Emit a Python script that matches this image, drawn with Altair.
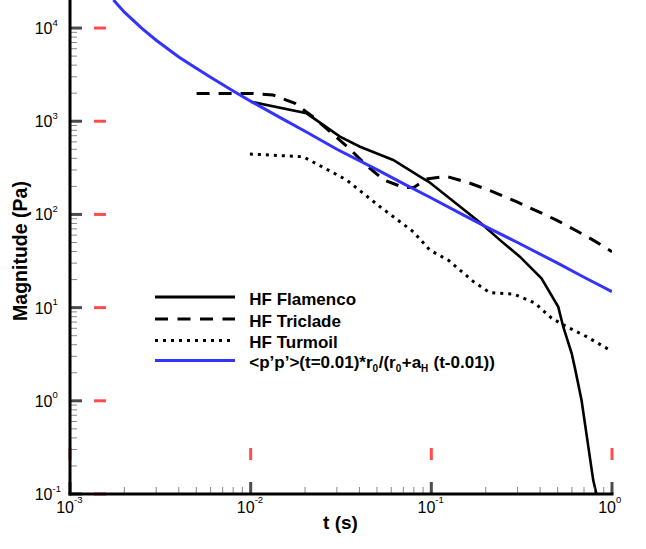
import altair as alt
import pandas as pd

# ---------------- data ----------------
t_flam = [0.01, 0.0204, 0.0312, 0.0403, 0.0615, 0.0865, 0.0968, 0.186, 0.24, 0.309, 0.407, 0.504, 0.537, 0.598, 0.624, 0.678, 0.787, 0.83]
v_flam = [1620, 1216, 683, 533, 384, 254, 224, 82, 53, 35.2, 20.6, 10.2, 6.24, 3.24, 2.23, 1.02, 0.141, 0.09]

t_tric = [0.00502, 0.0103, 0.0133, 0.0176, 0.0221, 0.0289, 0.035, 0.0435, 0.0547, 0.0705, 0.08, 0.094, 0.1216, 0.164, 0.22, 0.296, 0.366, 0.493, 0.624, 0.787, 1.0]
v_tric = [1990, 1990, 1910, 1556, 1117, 711, 515, 339, 234, 194, 195, 240, 256, 216, 175, 137, 113.5, 87, 68, 53, 39.8]

t_turm = [0.0099, 0.0195, 0.0252, 0.034, 0.052, 0.0795, 0.098, 0.125, 0.171, 0.211, 0.284, 0.31, 0.374, 0.463, 0.561, 0.723, 1.0]
v_turm = [445, 416, 320, 234, 121, 65.2, 41.5, 32, 19, 14.5, 14, 13.1, 11.2, 7.7, 6.24, 4.88, 3.4]

t_model = [0.00174, 0.002, 0.0025, 0.003, 0.004, 0.005, 0.006, 0.008, 0.01, 0.015, 0.02, 0.03, 0.05, 0.07, 0.1, 0.15, 0.2, 0.3, 0.5, 0.7, 1.0]
v_model = [20000, 14800, 9900, 7400, 4900, 3700, 2960, 2110, 1640, 1060, 780, 500, 302, 214, 150, 99, 74, 50, 30, 21.2, 14.8]

x_major = [0.001, 0.01, 0.1, 1.0]
x_major_exp = ["-3", "-2", "-1", "0"]
y_major = [0.1, 1, 10, 100, 1000, 10000]
y_major_exp = ["-1", "0", "1", "2", "3", "4"]
minor_mult = [2, 3, 4, 5, 6, 7, 8, 9]

legend_labels = ["HF Flamenco", "HF Triclade", "HF Turmoil"]
x_title = "t (s)"
y_title = "Magnitude (Pa)"

W, H = 542, 494
FONT = "Liberation Sans, Arial, Helvetica, sans-serif"

xs = alt.Scale(type="log", domain=[0.001, 1.0])
ys = alt.Scale(type="log", domain=[0.1, 20000])


def series(t, v, **mk):
    df = pd.DataFrame({"t": t, "v": v})
    return alt.Chart(df).mark_line(clip=True, **mk).encode(
        x=alt.X("t:Q", scale=xs, axis=None),
        y=alt.Y("v:Q", scale=ys, axis=None),
    )


layers = []
layers.append(series(t_turm, v_turm, color="black", strokeWidth=3, strokeDash=[3, 5]))
layers.append(series(t_tric, v_tric, color="black", strokeWidth=3, strokeDash=[13, 9]))
layers.append(series(t_flam, v_flam, color="black", strokeWidth=2.6))
layers.append(series(t_model, v_model, color="#3333FF", strokeWidth=3))

x_minor = [m * d for d in x_major[:-1] for m in minor_mult]
y_minor = [m * d for d in y_major[:-1] for m in minor_mult]


def ytick(vals, length, thick, color, pos):
    return alt.Chart(pd.DataFrame({"v": vals})).mark_tick(
        orient="horizontal", size=length, thickness=thick, color=color).encode(
        y=alt.Y("v:Q", scale=ys, axis=None), x=alt.value(pos))


def xtick(vals, length, thick, color, pos):
    return alt.Chart(pd.DataFrame({"t": vals})).mark_tick(
        orient="vertical", size=length, thickness=thick, color=color).encode(
        x=alt.X("t:Q", scale=xs, axis=None), y=alt.value(pos))


layers.append(ytick(y_minor, 7, 1, "#555555", 3.5))
layers.append(xtick(x_minor, 7, 1, "#555555", H - 3.5))
layers.append(ytick(y_major, 12, 3, "black", 6))
layers.append(xtick(x_major, 12, 3, "black", H - 6))
# diagnostic copies further inside
layers.append(ytick(y_major, 12, 3, "red", 30))
layers.append(xtick(x_major, 12, 3, "red", H - 40))

one = pd.DataFrame({"k": [0]})

# axis lines
layers.append(alt.Chart(one).mark_rule(color="black", strokeWidth=3).encode(
    x=alt.value(0), y=alt.value(0), y2=alt.value(H + 1.5)))
layers.append(alt.Chart(one).mark_rule(color="black", strokeWidth=3).encode(
    x=alt.value(-1.5), x2=alt.value(W + 1.5), y=alt.value(H)))

# tick labels
ymaj_df = pd.DataFrame({"v": y_major, "e": y_major_exp, "b": ["10"] * len(y_major)})
xmaj_df = pd.DataFrame({"t": x_major, "e": x_major_exp, "b": ["10"] * len(x_major)})
layers.append(alt.Chart(ymaj_df).mark_text(font=FONT, fontSize=16, align="right", baseline="alphabetic", dy=6, color="black").encode(
    y=alt.Y("v:Q", scale=ys, axis=None), x=alt.value(-17.5), text="b:N"))
layers.append(alt.Chart(ymaj_df).mark_text(font=FONT, fontSize=9.5, align="left", baseline="alphabetic", dy=-2.5, color="black").encode(
    y=alt.Y("v:Q", scale=ys, axis=None), x=alt.value(-17.5), text="e:N"))
layers.append(alt.Chart(xmaj_df).mark_text(font=FONT, fontSize=16, align="right", baseline="alphabetic", dx=4, color="black").encode(
    x=alt.X("t:Q", scale=xs, axis=None), y=alt.value(512.5), text="b:N"))
layers.append(alt.Chart(xmaj_df).mark_text(font=FONT, fontSize=9.5, align="left", baseline="alphabetic", dx=4, color="black").encode(
    x=alt.X("t:Q", scale=xs, axis=None), y=alt.value(502.7), text="e:N"))

# axis titles
layers.append(alt.Chart(one).mark_text(font=FONT, fontSize=19, fontWeight="bold", align="center", baseline="alphabetic", text=x_title, color="black").encode(
    x=alt.value(270.5), y=alt.value(529)))
layers.append(alt.Chart(one).mark_text(font=FONT, fontSize=19.5, fontWeight="bold", align="center", baseline="alphabetic", angle=270, text=y_title, color="black").encode(
    x=alt.value(-43), y=alt.value(251)))

# legend
LX1, LX2, TX = 85, 165, 179.3
row_line_y = [297, 319, 340.5, 360.5]
row_text_y = [305, 326.7, 348.3, 368.3]
styles = [dict(color="black", strokeWidth=3),
          dict(color="black", strokeWidth=3, strokeDash=[13, 9.5]),
          dict(color="black", strokeWidth=3, strokeDash=[3, 5]),
          dict(color="#3333FF", strokeWidth=3)]
for i in range(4):
    layers.append(alt.Chart(one).mark_rule(**styles[i]).encode(
        x=alt.value(LX1), x2=alt.value(LX2), y=alt.value(row_line_y[i])))
LFS = 17
for i, lab in enumerate(legend_labels):
    layers.append(alt.Chart(one).mark_text(font=FONT, fontSize=LFS, fontWeight="bold", align="left", baseline="alphabetic", text=lab, color="black").encode(
        x=alt.value(TX), y=alt.value(row_text_y[i])))

wtab = {'<': 584, 'p': 611, '\u2019': 278, '>': 584, '(': 333, 't': 333, '=': 584, '0': 556, '.': 278,
        '1': 556, ')': 333, '*': 389, 'r': 389, '/': 278, '+': 584, 'a': 556, ' ': 278, '-': 333, 'H': 722}
pieces = [("<p\u2019p\u2019>(t=0.01)*r", False), ("0", True), ("/(r", False), ("0", True),
          ("+a", False), ("H", True), (" ", False), ("(t-0.01))", False)]
SFS = 10
xpos = TX
for txt, sub in pieces:
    fs = SFS if sub else LFS
    if txt.strip():
        layers.append(alt.Chart(one).mark_text(font=FONT, fontSize=fs, fontWeight="bold", align="left", baseline="alphabetic",
                                               text=txt, dy=4 if sub else 0, color="black").encode(
            x=alt.value(xpos), y=alt.value(row_text_y[3])))
    xpos += sum(wtab.get(c, 556) for c in txt) / 1000.0 * fs + (0.5 if sub else 0)

chart = alt.layer(*layers).properties(
    width=W, height=H, autosize="none",
    padding={"left": 70, "top": 0, "right": 34, "bottom": 55},
    background="white",
).configure_view(stroke=None)

chart.save("out.html", embed_options={"renderer": "svg", "actions": False})
